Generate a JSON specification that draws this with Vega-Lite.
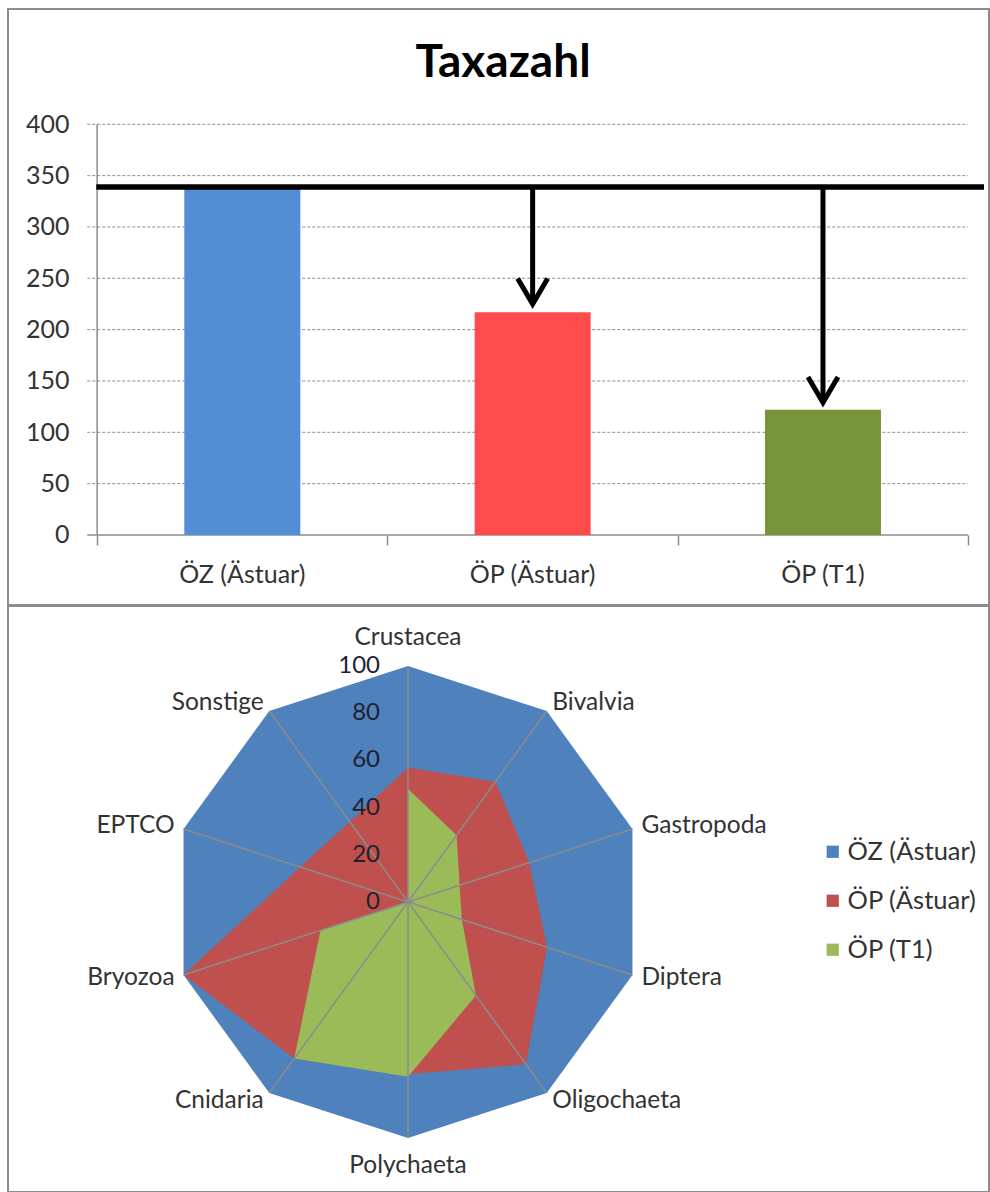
{
  "$schema": "https://vega.github.io/schema/vega-lite/v6.json",
  "padding": {"left": 7, "top": 8, "right": 0, "bottom": 0},
  "spacing": -2,
  "config": {"view": {"stroke": "#8c8c8c", "strokeWidth": 2}, "font": "Lato"},
  "resolve": {"legend": {"color": "independent"}},
  "datasets": {
    "bars": [
      {"site": "ÖZ (Ästuar)", "pos": 1, "taxa": 338},
      {"site": "ÖP (Ästuar)", "pos": 2, "taxa": 217},
      {"site": "ÖP (T1)", "pos": 3, "taxa": 122}
    ],
    "grid": [{"v": 50}, {"v": 100}, {"v": 150}, {"v": 200}, {"v": 250}, {"v": 300}, {"v": 350}, {"v": 400}],
    "arrows": [{"pos": 2, "from": 339, "to": 225}, {"pos": 3, "from": 339, "to": 129}],
    "taxa": [
      {"taxon": "Crustacea", "idx": 0}, {"taxon": "Bivalvia", "idx": 1}, {"taxon": "Gastropoda", "idx": 2},
      {"taxon": "Diptera", "idx": 3}, {"taxon": "Oligochaeta", "idx": 4}, {"taxon": "Polychaeta", "idx": 5},
      {"taxon": "Cnidaria", "idx": 6}, {"taxon": "Bryozoa", "idx": 7}, {"taxon": "EPTCO", "idx": 8}, {"taxon": "Sonstige", "idx": 9}
    ],
    "rticks": [{"t": 0}, {"t": 20}, {"t": 40}, {"t": 60}, {"t": 80}, {"t": 100}],
    "radar": [
      {"series": "ÖZ (Ästuar)", "taxon": "Crustacea", "idx": 0, "value": 100},
      {"series": "ÖZ (Ästuar)", "taxon": "Bivalvia", "idx": 1, "value": 100},
      {"series": "ÖZ (Ästuar)", "taxon": "Gastropoda", "idx": 2, "value": 100},
      {"series": "ÖZ (Ästuar)", "taxon": "Diptera", "idx": 3, "value": 100},
      {"series": "ÖZ (Ästuar)", "taxon": "Oligochaeta", "idx": 4, "value": 100},
      {"series": "ÖZ (Ästuar)", "taxon": "Polychaeta", "idx": 5, "value": 100},
      {"series": "ÖZ (Ästuar)", "taxon": "Cnidaria", "idx": 6, "value": 100},
      {"series": "ÖZ (Ästuar)", "taxon": "Bryozoa", "idx": 7, "value": 100},
      {"series": "ÖZ (Ästuar)", "taxon": "EPTCO", "idx": 8, "value": 100},
      {"series": "ÖZ (Ästuar)", "taxon": "Sonstige", "idx": 9, "value": 100},
      {"series": "ÖP (Ästuar)", "taxon": "Crustacea", "idx": 0, "value": 57},
      {"series": "ÖP (Ästuar)", "taxon": "Bivalvia", "idx": 1, "value": 63},
      {"series": "ÖP (Ästuar)", "taxon": "Gastropoda", "idx": 2, "value": 54},
      {"series": "ÖP (Ästuar)", "taxon": "Diptera", "idx": 3, "value": 62},
      {"series": "ÖP (Ästuar)", "taxon": "Oligochaeta", "idx": 4, "value": 85},
      {"series": "ÖP (Ästuar)", "taxon": "Polychaeta", "idx": 5, "value": 73},
      {"series": "ÖP (Ästuar)", "taxon": "Cnidaria", "idx": 6, "value": 82},
      {"series": "ÖP (Ästuar)", "taxon": "Bryozoa", "idx": 7, "value": 100},
      {"series": "ÖP (Ästuar)", "taxon": "EPTCO", "idx": 8, "value": 48},
      {"series": "ÖP (Ästuar)", "taxon": "Sonstige", "idx": 9, "value": 42},
      {"series": "ÖP (T1)", "taxon": "Crustacea", "idx": 0, "value": 48},
      {"series": "ÖP (T1)", "taxon": "Bivalvia", "idx": 1, "value": 35},
      {"series": "ÖP (T1)", "taxon": "Gastropoda", "idx": 2, "value": 23},
      {"series": "ÖP (T1)", "taxon": "Diptera", "idx": 3, "value": 24},
      {"series": "ÖP (T1)", "taxon": "Oligochaeta", "idx": 4, "value": 49},
      {"series": "ÖP (T1)", "taxon": "Polychaeta", "idx": 5, "value": 74},
      {"series": "ÖP (T1)", "taxon": "Cnidaria", "idx": 6, "value": 82},
      {"series": "ÖP (T1)", "taxon": "Bryozoa", "idx": 7, "value": 39},
      {"series": "ÖP (T1)", "taxon": "EPTCO", "idx": 8, "value": 0},
      {"series": "ÖP (T1)", "taxon": "Sonstige", "idx": 9, "value": 0}
    ]
  },
  "vconcat": [
    {
      "width": 981,
      "height": 596,
      "layer": [
        {
          "data": {"name": "grid"},
          "mark": {"type": "rule", "color": "#8c8c8c", "strokeDash": [3, 2], "strokeWidth": 1},
          "encoding": {
            "y": {"field": "v", "type": "quantitative", "scale": {"domain": [-68.2, 512.3], "nice": false, "zero": false},
              "axis": {"values": [0, 50, 100, 150, 200, 250, 300, 350, 400], "domain": false, "ticks": false, "tickSize": 0, "grid": false, "labelPadding": 24, "offset": -85, "labelFontSize": 25, "labelColor": "#333333", "labelFont": "Lato", "title": null}},
            "x": {"datum": 0.466, "type": "quantitative"},
            "x2": {"datum": 3.5}
          }
        },
        {
          "data": {"values": [{}]},
          "mark": {"type": "rule", "color": "#8c8c8c", "strokeWidth": 1.5},
          "encoding": {
            "x": {"datum": 0.5, "type": "quantitative"},
            "y": {"datum": 0, "type": "quantitative"},
            "y2": {"datum": 400}
          }
        },
        {
          "data": {"values": [{}]},
          "mark": {"type": "rule", "color": "#8c8c8c", "strokeWidth": 1.5},
          "encoding": {
            "x": {"datum": 0.466, "type": "quantitative"},
            "x2": {"datum": 3.5},
            "y": {"datum": 0, "type": "quantitative"}
          }
        },
        {
          "data": {"name": "bars"},
          "mark": {"type": "bar", "size": 116},
          "encoding": {
            "x": {"field": "pos", "type": "quantitative", "scale": {"domain": [0.21023, 3.55458], "nice": false, "zero": false},
              "axis": {"values": [0.5, 1.5, 2.5, 3.5], "domain": false, "labels": false, "grid": false, "ticks": true, "tickSize": 10, "tickColor": "#8c8c8c", "tickWidth": 1.5, "offset": -70, "title": null}},
            "y": {"field": "taxa", "type": "quantitative"},
            "y2": {"datum": 0},
            "fill": {"field": "site", "type": "nominal", "scale": {"domain": ["ÖZ (Ästuar)", "ÖP (Ästuar)", "ÖP (T1)"], "range": ["#538DD5", "#FF4B4B", "#77933C"]}, "legend": null}
          }
        },
        {
          "data": {"values": [{}]},
          "mark": {"type": "rule", "color": "#000000", "strokeWidth": 5.5},
          "encoding": {
            "x": {"datum": 0.497, "type": "quantitative"},
            "x2": {"datum": 3.55458},
            "y": {"datum": 339, "type": "quantitative"}
          }
        },
        {
          "data": {"name": "arrows"},
          "mark": {"type": "rule", "color": "#000000", "strokeWidth": 5},
          "encoding": {
            "x": {"field": "pos", "type": "quantitative"},
            "y": {"field": "from", "type": "quantitative"},
            "y2": {"field": "to"}
          }
        },
        {
          "data": {"name": "arrows"},
          "mark": {"type": "point", "shape": "M -1 -1.7 L 0 0 L 1 -1.7", "size": 900, "filled": false, "stroke": "#000000", "strokeWidth": 5, "opacity": 1, "strokeJoin": "miter"},
          "encoding": {
            "x": {"field": "pos", "type": "quantitative"},
            "y": {"field": "to", "type": "quantitative"}
          }
        },
        {
          "data": {"name": "bars"},
          "mark": {"type": "text", "fontSize": 25, "color": "#333333", "baseline": "middle", "font": "Lato"},
          "encoding": {
            "x": {"field": "pos", "type": "quantitative"},
            "y": {"datum": -39, "type": "quantitative"},
            "text": {"field": "site", "type": "nominal"}
          }
        },
        {
          "data": {"values": [{}]},
          "mark": {"type": "text", "text": "Taxazahl", "fontSize": 46, "fontWeight": "bold", "color": "#000000", "baseline": "middle", "font": "Lato"},
          "encoding": {
            "x": {"datum": 1.898, "type": "quantitative"},
            "y": {"datum": 459.5, "type": "quantitative"}
          }
        }
      ]
    },
    {
      "width": 981,
      "height": 586,
      "layer": [
        {
          "data": {"name": "radar"},
          "transform": [
            {"filter": "datum.series === 'ÖZ (Ästuar)'"},
            {"calculate": "datum.value * sin(datum.idx * PI / 5)", "as": "px"},
            {"calculate": "datum.value * cos(datum.idx * PI / 5)", "as": "py"}
          ],
          "mark": {"type": "line", "interpolate": "linear-closed", "filled": true},
          "encoding": {
            "x": {"field": "px", "type": "quantitative", "scale": {"domain": [-169.49, 246.19], "nice": false, "zero": false}, "axis": null},
            "y": {"field": "py", "type": "quantitative", "scale": {"domain": [-122.88, 125.42], "nice": false, "zero": false}, "axis": null},
            "order": {"field": "idx", "type": "quantitative"},
            "color": {"field": "series", "type": "nominal",
              "scale": {"domain": ["ÖZ (Ästuar)", "ÖP (Ästuar)", "ÖP (T1)"], "range": ["#4F81BD", "#C0504D", "#9BBB59"]},
              "legend": {"orient": "none", "legendX": 812, "legendY": 233, "title": null, "symbolType": "square", "symbolSize": 150, "symbolOpacity": 1, "symbolStrokeWidth": 0, "labelFontSize": 25.5, "labelFont": "Lato", "labelColor": "#333333", "rowPadding": 22, "labelOffset": 2}}
          }
        },
        {
          "data": {"name": "radar"},
          "transform": [
            {"filter": "datum.series === 'ÖP (Ästuar)'"},
            {"calculate": "datum.value * sin(datum.idx * PI / 5)", "as": "px"},
            {"calculate": "datum.value * cos(datum.idx * PI / 5)", "as": "py"}
          ],
          "mark": {"type": "line", "interpolate": "linear-closed", "filled": true},
          "encoding": {
            "x": {"field": "px", "type": "quantitative"},
            "y": {"field": "py", "type": "quantitative"},
            "order": {"field": "idx", "type": "quantitative"},
            "color": {"field": "series", "type": "nominal", "legend": null}
          }
        },
        {
          "data": {"name": "radar"},
          "transform": [
            {"filter": "datum.series === 'ÖP (T1)'"},
            {"calculate": "datum.value * sin(datum.idx * PI / 5)", "as": "px"},
            {"calculate": "datum.value * cos(datum.idx * PI / 5)", "as": "py"}
          ],
          "mark": {"type": "line", "interpolate": "linear-closed", "filled": true},
          "encoding": {
            "x": {"field": "px", "type": "quantitative"},
            "y": {"field": "py", "type": "quantitative"},
            "order": {"field": "idx", "type": "quantitative"},
            "color": {"field": "series", "type": "nominal", "legend": null}
          }
        },
        {
          "data": {"name": "taxa"},
          "transform": [
            {"calculate": "100 * sin(datum.idx * PI / 5)", "as": "sx"},
            {"calculate": "100 * cos(datum.idx * PI / 5)", "as": "sy"}
          ],
          "mark": {"type": "rule", "color": "#8c8c8c", "strokeWidth": 1.5},
          "encoding": {
            "x": {"field": "sx", "type": "quantitative"},
            "y": {"field": "sy", "type": "quantitative"},
            "x2": {"datum": 0},
            "y2": {"datum": 0}
          }
        },
        {
          "data": {"name": "rticks"},
          "mark": {"type": "text", "align": "right", "baseline": "middle", "dx": -28, "fontSize": 24, "color": "#1f1f2f", "font": "Lato"},
          "encoding": {
            "x": {"datum": 0, "type": "quantitative"},
            "y": {"field": "t", "type": "quantitative"},
            "text": {"field": "t", "type": "quantitative"}
          }
        },
        {
          "data": {"name": "taxa"},
          "transform": [
            {"filter": "datum.idx >= 1 && datum.idx <= 4"},
            {"calculate": "104 * sin(datum.idx * PI / 5)", "as": "lx"},
            {"calculate": "104 * cos(datum.idx * PI / 5)", "as": "ly"}
          ],
          "mark": {"type": "text", "align": "left", "baseline": "middle", "fontSize": 24.5, "color": "#333333", "font": "Lato"},
          "encoding": {
            "x": {"field": "lx", "type": "quantitative"},
            "y": {"field": "ly", "type": "quantitative"},
            "text": {"field": "taxon", "type": "nominal"}
          }
        },
        {
          "data": {"name": "taxa"},
          "transform": [
            {"filter": "datum.idx >= 6"},
            {"calculate": "104 * sin(datum.idx * PI / 5)", "as": "lx"},
            {"calculate": "104 * cos(datum.idx * PI / 5)", "as": "ly"}
          ],
          "mark": {"type": "text", "align": "right", "baseline": "middle", "fontSize": 24.5, "color": "#333333", "font": "Lato"},
          "encoding": {
            "x": {"field": "lx", "type": "quantitative"},
            "y": {"field": "ly", "type": "quantitative"},
            "text": {"field": "taxon", "type": "nominal"}
          }
        },
        {
          "data": {"name": "taxa"},
          "transform": [
            {"filter": "datum.idx == 0 || datum.idx == 5"},
            {"calculate": "112 * sin(datum.idx * PI / 5)", "as": "lx"},
            {"calculate": "112 * cos(datum.idx * PI / 5)", "as": "ly"}
          ],
          "mark": {"type": "text", "align": "center", "baseline": "middle", "fontSize": 24.5, "color": "#333333", "font": "Lato"},
          "encoding": {
            "x": {"field": "lx", "type": "quantitative"},
            "y": {"field": "ly", "type": "quantitative"},
            "text": {"field": "taxon", "type": "nominal"}
          }
        }
      ]
    }
  ]
}
